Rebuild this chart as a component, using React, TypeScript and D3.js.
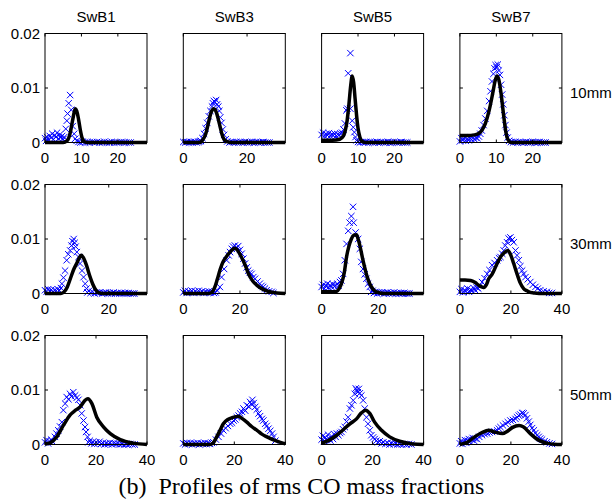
import * as d3 from "d3";

type Pt = [number, number];

// column / row labels
const columns = ["SwB1", "SwB3", "SwB5", "SwB7"];
const stations = ["10mm", "30mm", "50mm"];
const caption = "(b)  Profiles of rms CO mass fractions";

// x extent and tick labels per panel (rows: 10mm, 30mm, 50mm)
const xMax = [
  [28, 32, 28, 28],
  [32, 36, 36, 40],
  [40, 40, 40, 40],
];
const xTicks = [
  [[0, 10, 20], [0, 20], [0, 10, 20], [0, 10, 20]],
  [[0, 20], [0, 20], [0, 20], [0, 20, 40]],
  [[0, 20, 40], [0, 20, 40], [0, 20, 40], [0, 20, 40]],
];
const yTicks = [0, 0.01, 0.02];

// all y values below are in units of 1e-3
// ---- 10mm ----
const line10B1: Pt[] = [[0,0],[5,0],[6,0.3],[6.5,0.8],[7,2.0],[7.5,3.8],[8,5.5],[8.3,6.2],[8.7,5.8],[9.2,4.3],[9.7,2.3],[10.2,0.8],[10.7,0.2],[11.5,0],[28,0]];
const meas10B1: Pt[] = [[0,0.8],[0.3,0.3],[0.6,1.0],[1,0.5],[1.3,1.2],[1.7,0.9],[2,1.6],[2.3,0.6],[2.7,1.3],[3,1.0],[3.3,1.8],[3.7,0.7],[4,1.4],[4.3,0.9],[4.7,1.2],[5,0.6],[5.3,1.0],[5.7,2.5],[6,4.0],[6.2,5.3],[6.5,7.2],[6.9,8.7],[7.2,6.0],[7.6,3.0],[8,1.6],[8.3,0.7],[8.7,0.3],[9.2,0.1],[9.7,0],[10.3,0.1],[11,0],[11.7,0.1],[12.3,0],[13,0.1],[13.7,0],[14.3,0.1],[15,0],[15.7,0],[16.3,0.1],[17,0],[17.7,0],[18.3,0.1],[19,0],[19.7,0],[20.3,0],[21,0.1],[21.7,0],[22.3,0],[23,0],[23.5,0]];

const line10B3: Pt[] = [[0,0],[5,0],[6,0.4],[7,1.5],[7.5,2.6],[8,3.9],[8.5,5.1],[9,5.9],[9.5,6.2],[10,6.0],[10.5,5.3],[11,4.2],[11.5,3.0],[12,1.8],[12.5,0.9],[13,0.4],[14,0.1],[15,0],[32,0]];
const meas10B3: Pt[] = [[0,0.1],[0.6,0],[1.2,0.1],[1.8,0],[2.4,0.1],[3,0],[3.6,0.1],[4.2,0],[4.8,0.1],[5.2,0.2],[5.5,0.3],[6,0.8],[6.5,1.6],[7,2.6],[7.5,3.6],[8,4.8],[8.5,5.8],[9,6.6],[9.3,7.2],[9.6,7.6],[10,7.4],[10.3,7.8],[10.6,7.0],[11,6.6],[11.3,5.8],[11.6,4.6],[12,3.6],[12.4,2.4],[12.8,1.4],[13.3,0.6],[13.8,0.2],[14.5,0],[15.2,0.1],[15.9,0],[16.6,0.1],[17.3,0],[18,0.1],[18.7,0],[19.4,0.1],[20.1,0],[20.8,0],[21.5,0.1],[22.2,0],[22.9,0.1],[23.6,0],[24.3,0],[25,0.1],[25.7,0],[26.4,0],[27,0]];

const line10B5: Pt[] = [[0,0.4],[3,0.4],[5,0.6],[6,1.2],[6.5,2.2],[7,4.0],[7.5,7.0],[8,10.5],[8.4,12.2],[8.8,11.0],[9.2,8.0],[9.6,5.0],[10,2.6],[10.5,1.0],[11,0.3],[12,0],[28,0]];
const meas10B5: Pt[] = [[0,1.4],[0.4,1.8],[0.8,1.2],[1.2,1.6],[1.6,1.3],[2,1.7],[2.4,1.2],[2.8,1.5],[3.2,1.3],[3.6,1.6],[4,1.2],[4.4,1.5],[4.8,1.4],[5.2,1.6],[5.6,1.8],[6,2.4],[6.4,3.5],[6.8,5.9],[7.1,6.2],[7.3,12.7],[7.9,16.4],[7.9,6.2],[8.4,4.0],[8.7,2.8],[9,1.9],[9.3,1.0],[9.6,0.4],[10,0.1],[10.5,0],[11,0.1],[11.6,0],[12.2,0.1],[12.8,0],[13.4,0.1],[14,0],[14.6,0],[15.2,0.1],[15.8,0],[16.4,0.1],[17,0],[17.6,0],[18.2,0.1],[18.8,0],[19.4,0],[20,0.1],[20.6,0],[21.2,0],[21.8,0.1],[22.4,0],[23,0],[23.5,0]];

const line10B7: Pt[] = [[0,1.3],[2,1.3],[4,1.4],[5,1.6],[6,2.2],[7,3.5],[8,5.8],[9,9.0],[9.7,11.4],[10.2,12.2],[10.7,11.5],[11.3,9.0],[12,5.0],[12.6,2.0],[13.2,0.5],[14,0],[28,0]];
const meas10B7: Pt[] = [[0,0.2],[0.4,0.8],[0.8,0.4],[1.2,0.9],[1.6,0.3],[2,0.7],[2.4,0.4],[2.8,0.8],[3.2,0.5],[3.6,0.9],[4,0.6],[4.4,0.9],[4.8,0.8],[5.2,1.1],[5.6,1.6],[6,2.2],[6.5,3.2],[7,4.4],[7.5,5.8],[8,7.6],[8.4,9.4],[8.8,11.2],[9.2,12.6],[9.5,13.6],[9.8,14.2],[10.1,13.8],[10.4,14.3],[10.7,13.2],[11,12.4],[11.3,10.6],[11.6,8.8],[11.9,7.0],[12.2,5.0],[12.5,3.2],[12.8,1.8],[13.1,0.9],[13.5,0.3],[14,0.1],[14.6,0],[15.2,0.1],[15.8,0],[16.4,0.1],[17,0],[17.6,0],[18.2,0.1],[18.8,0],[19.4,0],[20,0.1],[20.6,0],[21.2,0],[21.8,0.1],[22.4,0],[23,0],[23.5,0]];

// ---- 30mm ----
const line30B1: Pt[] = [[0,0],[5,0],[6,0.3],[7,1.2],[8,2.8],[9,4.4],[10,5.6],[10.8,6.6],[11.4,7.0],[12,6.6],[13,5.2],[14,3.3],[15,1.7],[16,0.6],[17,0.1],[18,0],[32,0]];
const meas30B1: Pt[] = [[0,0.6],[0.5,0.3],[1,0.8],[1.5,0.4],[2,0.7],[2.5,0.3],[3,0.6],[3.5,0.5],[4,0.8],[4.5,0.5],[5,1.0],[5.3,1.8],[5.8,2.9],[6.3,4.2],[6.8,6.1],[7.3,7.2],[7.9,7.9],[8.3,8.8],[8.6,9.6],[9,10.0],[9.3,9.3],[9.6,8.6],[10,7.6],[10.5,6.7],[11,5.5],[11.6,4.2],[12.1,3.0],[12.6,1.8],[13,0.9],[13.3,0.2],[13.8,0.5],[14.3,0.1],[14.9,0.3],[15.5,0],[16.1,0.2],[16.7,0.1],[17.3,0.2],[17.9,0],[18.5,0.1],[19.1,0.2],[19.7,0],[20.3,0.1],[20.9,0],[21.5,0.2],[22.1,0],[22.7,0.1],[23.3,0],[23.9,0.1],[24.5,0],[25.1,0.1],[25.7,0],[26.3,0.1],[26.9,0],[27.5,0],[28,0]];

const line30B3: Pt[] = [[0,0],[9,0],[10,0.2],[11,1.0],[12,2.6],[13,4.4],[14,5.8],[15,6.6],[16,7.3],[17,7.9],[18.2,8.3],[19,8.0],[20.5,6.7],[22,5.0],[23,3.6],[24.5,2.3],[26,1.5],[28,0.8],[30,0.4],[33,0.1],[36,0]];
const meas30B3: Pt[] = [[0,0.2],[0.6,0.5],[1.2,0.1],[1.8,0.4],[2.4,0.2],[3,0.5],[3.6,0.1],[4.2,0.4],[4.8,0.2],[5.4,0.5],[6,0.2],[6.6,0.4],[7.2,0.1],[7.8,0.3],[8.4,0.2],[9,0.4],[9.6,0.1],[10.2,0.3],[10.8,0.1],[11.4,0.2],[12,0.5],[12.9,1.2],[13.5,3.0],[14.4,4.5],[15.3,6.1],[16,7.0],[16.5,7.6],[17.1,8.2],[17.6,8.6],[18.2,8.8],[18.8,8.4],[19.4,8.7],[20,8.0],[20.6,7.3],[21.2,6.4],[21.8,5.5],[22.4,4.8],[22.9,4.2],[23.5,3.8],[24.1,3.6],[24.7,3.0],[25.3,2.7],[26.2,2.2],[27,1.8],[27.6,1.4],[28.2,1.2],[28.8,0.9],[29.4,0.6],[30.3,0.4],[31.2,0.3],[31.8,0.1]];

const line30B5: Pt[] = [[0,0.3],[4,0.3],[5.3,0.4],[6.2,0.9],[7,1.8],[8,3.8],[8.8,6.7],[9.6,8.6],[10.5,10.0],[11.4,10.7],[12.3,10.8],[13,9.8],[13.5,8.8],[14.4,6.6],[15.2,4.8],[16,3.2],[17,1.8],[18,0.9],[18.7,0.5],[20.5,0.1],[22,0],[36,0]];
const meas30B5: Pt[] = [[0,1.2],[0.5,1.6],[1,0.9],[1.5,1.4],[2,1.8],[2.5,1.1],[3,1.5],[3.5,1.2],[4,1.7],[4.5,1.3],[5,1.5],[5.5,1.8],[6,1.4],[6.5,2.1],[7,2.4],[7.6,3.6],[8.2,6.1],[8.8,9.1],[9.4,11.5],[9.9,13.0],[10.5,14.2],[11.1,15.9],[11.3,13.0],[12,11.2],[12.9,10.0],[13.5,8.2],[14,5.8],[14.6,4.5],[15.2,3.5],[15.8,2.7],[16.4,1.8],[17,1.2],[17.5,0.3],[18,0.5],[18.5,0.1],[19,0.3],[19.6,0],[20.2,0.2],[20.8,0.1],[21.4,0.2],[22,0],[22.6,0.1],[23.2,0.2],[23.8,0],[24.4,0.1],[25,0],[25.6,0.2],[26.2,0],[26.8,0.1],[27.4,0],[28,0.1],[28.6,0],[29.2,0.1],[29.8,0],[30.4,0],[31,0]];

const line30B7: Pt[] = [[0,2.5],[2,2.5],[4.2,2.4],[6,2.0],[7.4,1.5],[8.5,1.2],[9.4,1.1],[10.4,1.6],[11.3,2.7],[12.6,3.5],[14.6,5.5],[15.9,6.7],[17.2,7.4],[18.8,7.9],[20,7.0],[21.1,5.5],[22.4,3.6],[23.7,1.9],[25,0.9],[26.3,0.5],[27.6,0.2],[28.9,0.1],[31,0],[40,0]];
const meas30B7: Pt[] = [[0,0.3],[0.6,0.8],[1.2,0.2],[1.8,0.6],[2.4,0.4],[3,0.9],[3.6,0.3],[4.2,0.7],[4.8,0.5],[5.4,1.0],[6,0.6],[6.6,1.1],[7.2,0.9],[7.8,1.4],[8.7,2.1],[9.7,2.8],[10.7,3.6],[11.6,4.3],[12.6,5.2],[13.6,5.6],[14.6,6.1],[15.3,6.5],[15.9,6.7],[16.6,7.3],[17.2,7.9],[17.8,8.8],[18.5,9.4],[19.1,10.1],[19.8,10.3],[20.4,9.8],[21.1,9.4],[21.8,7.9],[22.4,7.0],[23.1,6.1],[23.7,5.0],[24.4,4.2],[25,3.6],[25.7,3.0],[26.6,2.6],[27.6,2.1],[28.6,1.6],[29.6,1.2],[30.5,0.9],[31.5,0.6],[32.8,0.4],[34.1,0.3],[35,0.1],[36.1,0.1]];

// ---- 50mm ----
const line50B1: Pt[] = [[0,0.1],[2,0.3],[4.6,1.4],[7.2,3.5],[9.8,5.4],[12,6.3],[13.8,6.9],[15.7,8.1],[16.8,8.4],[18.4,7.5],[20.3,5.0],[23,3.2],[25.6,2.0],[29.5,0.9],[34.8,0.25],[40,0]];
const meas50B1: Pt[] = [[0,0.4],[0.6,0.8],[1.2,0.2],[1.8,0.6],[2.4,0.9],[3,0.5],[3.9,1.4],[4.5,2.0],[5.2,2.6],[5.9,3.3],[6.6,4.1],[7.2,6.3],[7.9,7.5],[8.5,8.7],[9.2,8.3],[9.8,9.3],[10.4,8.8],[11.1,9.6],[11.8,9.0],[12.5,8.6],[13.1,8.2],[13.8,7.2],[14.4,5.7],[15.1,4.4],[15.7,3.2],[16.1,2.3],[16.7,1.4],[17,0.4],[17.6,0.7],[18.2,0.2],[18.8,0.5],[19.4,0.1],[20,0.4],[20.7,0.2],[21.4,0.5],[22,0.1],[22.7,0.3],[23.4,0],[24,0.2],[24.8,0.1],[25.5,0.3],[26.3,0],[27,0.2],[27.8,0.1],[28.6,0.2],[29.4,0],[30.2,0.1],[31,0],[31.8,0.1],[32.6,0],[33.4,0.1],[34.3,0],[35.2,0]];

const line50B3: Pt[] = [[0,0],[10,0],[11.5,0.2],[13.1,1.4],[14.5,2.7],[15.7,3.8],[17.5,4.6],[19,4.9],[21.6,5.2],[23,4.8],[24.9,4.1],[26.8,3.3],[28.9,2.6],[30.8,1.9],[32.8,1.4],[36.7,0.6],[40,0.1]];
const meas50B3: Pt[] = [[0,0.2],[0.7,0],[1.4,0.3],[2.1,0.1],[2.8,0.3],[3.5,0],[4.2,0.2],[4.9,0.1],[5.6,0.3],[6.3,0],[7,0.2],[7.7,0.1],[8.4,0.3],[9.1,0.1],[9.8,0.2],[10.5,0.1],[11.2,0.3],[11.8,0.4],[12.8,0.9],[13.8,1.4],[14.8,2.0],[15.7,2.6],[16.6,3.0],[17.5,3.4],[18.4,3.8],[19.1,4.0],[19.7,4.4],[20.4,4.6],[21,5.0],[21.7,5.3],[22.3,5.7],[23,6.0],[23.6,6.6],[24.3,6.2],[24.9,7.2],[25.6,7.0],[26.2,7.8],[26.7,7.4],[27.1,8.2],[27.6,7.6],[28.2,6.9],[28.8,6.4],[29.5,5.7],[30.1,5.2],[30.8,4.7],[31.4,4.4],[32.1,3.8],[32.7,3.4],[33.4,2.9],[34.1,2.5],[34.8,2.0],[35.4,1.4],[36.1,0.7]];

const line50B5: Pt[] = [[0,0.25],[2.6,0.7],[5.9,1.7],[8.5,2.7],[11.1,3.8],[13.7,4.7],[15.6,5.8],[17.3,6.3],[18.9,5.7],[20.8,4.1],[23.5,2.6],[26.7,1.4],[30.6,0.6],[35.8,0.1],[40,0]];
const meas50B5: Pt[] = [[0,0.9],[0.5,1.6],[1,0.6],[1.5,1.3],[2,0.8],[2.5,1.8],[3,1.1],[3.5,0.7],[4,1.5],[4.5,1.0],[5,1.9],[5.5,1.4],[6,2.0],[6.6,1.7],[7.2,2.1],[7.8,2.3],[8.4,2.8],[9.1,3.2],[9.8,4.2],[10.4,5.0],[11.1,6.6],[11.7,7.2],[12.4,8.1],[13,9.3],[13.4,10.3],[13.7,10.0],[14.2,9.6],[14.6,10.2],[15,9.4],[15.6,9.0],[16.3,8.1],[16.9,6.6],[17.6,5.0],[18.2,3.8],[18.9,2.6],[19.5,1.7],[20.2,1.3],[20.8,1.0],[21.5,0.7],[22.1,0.4],[22.8,0.6],[23.5,0.2],[24.2,0.4],[25,0.1],[25.8,0.3],[26.6,0],[27.4,0.2],[28.2,0.1],[29,0.2],[29.8,0],[30.6,0.1],[31.5,0],[32.4,0.1],[33.3,0],[34.2,0.1],[35.2,0]];

const line50B7: Pt[] = [[0,0],[2.9,0.4],[5.5,1.3],[8.7,2.2],[11.3,2.6],[13.5,2.3],[16.7,2.0],[18.5,2.4],[20.5,3.1],[23.2,3.5],[25,3.2],[27.6,2.0],[30.9,0.8],[34.1,0.25],[37,0.05],[40,0]];
const meas50B7: Pt[] = [[0,0.2],[0.5,0.6],[1,0.1],[1.5,0.4],[2,0.8],[2.5,0.3],[3,0.7],[3.5,1.0],[4,0.5],[4.5,0.9],[5,1.2],[5.5,0.7],[6,1.1],[6.8,1.0],[7.6,1.4],[8.7,1.7],[9.7,1.9],[10.7,2.0],[11.6,2.2],[12.6,2.3],[13.6,2.4],[14.6,2.6],[15.3,2.9],[15.9,3.2],[16.9,3.5],[17.9,3.8],[18.8,4.1],[19.8,4.4],[20.8,4.5],[21.8,4.7],[22.4,5.0],[23.1,5.3],[23.7,5.5],[24.4,5.8],[25,5.7],[25.7,5.4],[26.3,4.8],[27,4.2],[27.6,3.6],[28.3,3.0],[29,2.6],[29.6,2.1],[30.3,1.7],[30.9,1.4],[31.5,1.1],[32.2,0.9],[33.2,0.6],[34.1,0.4],[35.1,0.2],[36.1,0.1]];

const lines: Pt[][][] = [
  [line10B1, line10B3, line10B5, line10B7],
  [line30B1, line30B3, line30B5, line30B7],
  [line50B1, line50B3, line50B5, line50B7],
];
const measured: Pt[][][] = [
  [meas10B1, meas10B3, meas10B5, meas10B7],
  [meas30B1, meas30B3, meas30B5, meas30B7],
  [meas50B1, meas50B3, meas50B5, meas50B7],
];

const W = 615;
const H = 499;
const panelW = 102;
const panelH = 109;
const colLeft = (c: number) => 45 + c * 138.3;
const rowTop = (r: number) => 33.5 + r * 151;
const sans = "'Liberation Sans', Arial, Helvetica, sans-serif";
const xMark = "M-3.2,-3.2L3.2,3.2M-3.2,3.2L3.2,-3.2";

function Panel({ r, c }: { r: number; c: number }) {
  const left = colLeft(c);
  const top = rowTop(r);
  const x = d3.scaleLinear().domain([0, xMax[r][c]]).range([left, left + panelW]);
  const y = d3.scaleLinear().domain([0, 0.02]).range([top + panelH, top]);
  const path = d3
    .line<Pt>()
    .x((d) => x(d[0]))
    .y((d) => y(d[1] * 1e-3))
    .curve(d3.curveMonotoneX);
  const tl = 3;
  return (
    <g>
      {measured[r][c].map((d, i) => (
        <path
          key={i}
          d={xMark}
          transform={`translate(${x(d[0])},${y(d[1] * 1e-3)})`}
          stroke="#0000ff"
          strokeWidth={1}
          fill="none"
        />
      ))}
      <path d={path(lines[r][c]) ?? ""} fill="none" stroke="#000" strokeWidth={3.5} strokeLinejoin="round" />
      <rect x={left} y={top} width={panelW} height={panelH} fill="none" stroke="#000" strokeWidth={1} />
      {xTicks[r][c].map((t) => (
        <g key={"x" + t}>
          <line x1={x(t)} x2={x(t)} y1={top + panelH} y2={top + panelH - tl} stroke="#000" />
          <line x1={x(t)} x2={x(t)} y1={top} y2={top + tl} stroke="#000" />
          <text x={x(t)} y={top + panelH + 20} textAnchor="middle" fontSize={15} fontFamily={sans}>
            {t}
          </text>
        </g>
      ))}
      {yTicks.map((t) => (
        <g key={"y" + t}>
          <line x1={left} x2={left + tl} y1={y(t)} y2={y(t)} stroke="#000" />
          <line x1={left + panelW} x2={left + panelW - tl} y1={y(t)} y2={y(t)} stroke="#000" />
          {c === 0 && (
            <text x={left - 5} y={y(t)} dy="0.36em" textAnchor="end" fontSize={15} fontFamily={sans}>
              {d3.format("~g")(t)}
            </text>
          )}
        </g>
      ))}
    </g>
  );
}

export default function App() {
  return (
    <svg width={W} height={H} style={{ position: "absolute", left: 0, top: 0, background: "#fff" }}>
      <rect width={W} height={H} fill="#fff" />
      {columns.map((name, c) => (
        <text key={name} x={colLeft(c) + panelW / 2} y={22} textAnchor="middle" fontSize={15} fontFamily={sans}>
          {name}
        </text>
      ))}
      {stations.map((name, r) => (
        <text key={name} x={570} y={rowTop(r) + panelH / 2 + 10} fontSize={15} fontFamily={sans}>
          {name}
        </text>
      ))}
      {stations.map((_, r) => columns.map((__, c) => <Panel key={r + "-" + c} r={r} c={c} />))}
      <text x={301.5} y={494} textAnchor="middle" fontSize={24} fontFamily="'Liberation Serif', 'Times New Roman', serif" xmlSpace="preserve">
        {caption}
      </text>
    </svg>
  );
}
